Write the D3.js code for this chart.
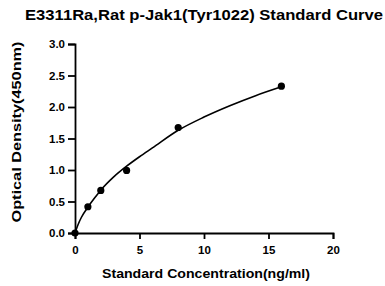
<!DOCTYPE html>
<html>
<head>
<meta charset="utf-8">
<script src="https://cdn.jsdelivr.net/npm/d3@7"></script>
<style>
  body { margin: 0; background: #fff; }
  text { font-family: "Liberation Sans", Arial, sans-serif; font-weight: bold; fill: #000; }
</style>
</head>
<body>
<svg width="385" height="286"></svg>
<script>
// measured standards
const concentration = [0, 1, 2, 4, 8, 16];
const density = [0, 0.417, 0.676, 0.993, 1.675, 2.33];

// fitted curve
const curveX = [0, 0.25, 0.5, 1, 1.5, 2, 3, 4, 5, 6, 8, 10, 12, 14, 16];
const curveY = [0, 0.14, 0.25, 0.41, 0.55, 0.68, 0.89, 1.06, 1.21, 1.35, 1.63, 1.84, 2.02, 2.18, 2.32];

const xTicks = [0, 5, 10, 15, 20];
const yTicks = [0, 0.5, 1.0, 1.5, 2.0, 2.5, 3.0];

const svg = d3.select("svg");
const margin = { top: 44, right: 52, bottom: 53, left: 75 };
const width = 385 - margin.left - margin.right;
const height = 286 - margin.top - margin.bottom;

const x = d3.scaleLinear().domain([0, 20]).range([margin.left, margin.left + width]);
const y = d3.scaleLinear().domain([0, 3]).range([margin.top + height, margin.top]);

// title (text in the original is a bit wider than the font, so stretch it)
svg.append("text")
  .attr("x", 204)
  .attr("y", 20)
  .attr("text-anchor", "middle")
  .attr("textLength", 358)
  .attr("lengthAdjust", "spacingAndGlyphs")
  .style("font-size", "15.4px")
  .text("E3311Ra,Rat p-Jak1(Tyr1022) Standard Curve");

// axes
const xAxis = svg.append("g")
  .attr("transform", "translate(0," + (margin.top + height) + ")")
  .call(d3.axisBottom(x).tickValues(xTicks).tickSize(6).tickPadding(7).tickFormat(d3.format("d")));

const yAxis = svg.append("g")
  .attr("transform", "translate(" + margin.left + ",0)")
  .call(d3.axisLeft(y).tickValues(yTicks).tickSize(7).tickPadding(3).tickFormat(d3.format(".1f")));

[xAxis, yAxis].forEach(g => {
  g.selectAll("path").attr("stroke", "#000").attr("stroke-width", 1.8);
  g.selectAll("line").attr("stroke", "#000").attr("stroke-width", 1.8);
  g.selectAll("text").style("font-size", "11.5px").style("font-family", "Liberation Sans, Arial, sans-serif").style("font-weight", "bold");
});

// axis titles
svg.append("text")
  .attr("x", 206)
  .attr("y", 278)
  .attr("text-anchor", "middle")
  .attr("textLength", 208)
  .attr("lengthAdjust", "spacingAndGlyphs")
  .style("font-size", "13.5px")
  .text("Standard Concentration(ng/ml)");

svg.append("text")
  .attr("transform", "translate(20.5,132) rotate(-90)")
  .attr("text-anchor", "middle")
  .attr("textLength", 181)
  .attr("lengthAdjust", "spacingAndGlyphs")
  .style("font-size", "12.5px")
  .text("Optical Density(450nm)");

// fitted line
const line = d3.line()
  .x(d => x(d[0]))
  .y(d => y(d[1]))
  .curve(d3.curveMonotoneX);

svg.append("path")
  .datum(d3.zip(curveX, curveY))
  .attr("fill", "none")
  .attr("stroke", "#000")
  .attr("stroke-width", 1.6)
  .attr("d", line);

// points
svg.selectAll("circle.pt")
  .data(d3.zip(concentration, density))
  .enter().append("circle")
  .attr("class", "pt")
  .attr("cx", d => x(d[0]))
  .attr("cy", d => y(d[1]))
  .attr("r", 3.6)
  .attr("fill", "#000");
</script>
</body>
</html>
